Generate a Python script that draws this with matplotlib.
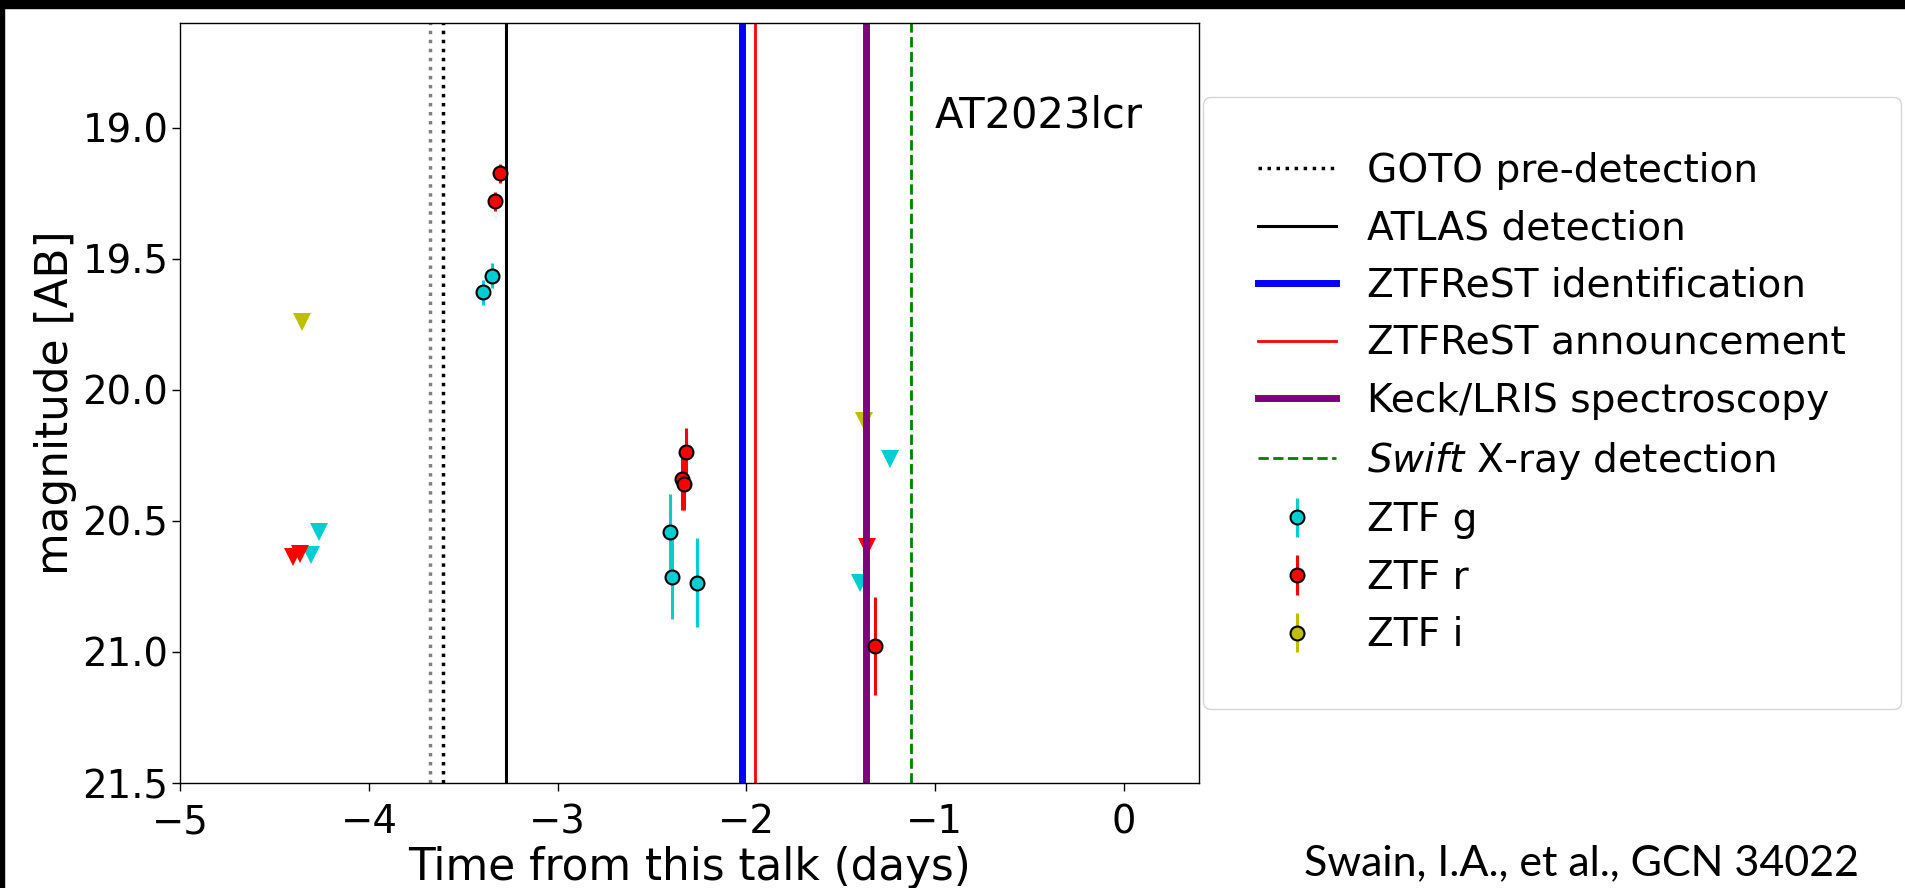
import numpy as np
import matplotlib
matplotlib.use("Agg")
import matplotlib.pyplot as plt
from matplotlib.patches import Rectangle

# ZTF detections (time from talk in days, AB mag, 1-sigma error)
g_t = [-3.394, -3.345, -2.404, -2.391, -2.262]
g_mag = [19.628, 19.564, 20.544, 20.714, 20.735]
g_err = [0.048, 0.047, 0.147, 0.160, 0.169]

r_t = [-3.332, -3.306, -2.343, -2.330, -2.317, -1.316]
r_mag = [19.280, 19.174, 20.339, 20.359, 20.237, 20.977]
r_err = [0.036, 0.035, 0.12, 0.10, 0.092, 0.187]

i_t = []
i_mag = []
i_err = []

# ZTF upper limits
g_lim_t = [-4.309, -4.266, -1.399, -1.238]
g_lim_mag = [20.629, 20.541, 20.735, 20.263]
r_lim_t = [-4.400, -4.366, -1.358]
r_lim_mag = [20.637, 20.625, 20.600]
i_lim_t = [-4.353, -1.377]
i_lim_mag = [19.740, 20.117]

# epochs of the follow-up milestones
goto_t = [-3.677, -3.608]
atlas_t = -3.272
ztfrest_id_t = -2.024
ztfrest_ann_t = -1.954
keck_t = -1.364
swift_t = -1.126

W, H = 1905, 888
fig = plt.figure(figsize=(W / 100, H / 100), dpi=100)
fig.patch.set_facecolor('white')
ax = fig.add_axes([180.25 / W, 1 - 783 / H, (1199 - 180.25) / W, (783 - 23) / H])

# black slide edges
fig.add_artist(Rectangle((0, 1 - 8 / H), 1, 8 / H, transform=fig.transFigure,
                         color='k', zorder=10))
fig.add_artist(Rectangle((0, 0), 4 / W, 1, transform=fig.transFigure,
                         color='k', zorder=10))

cg, cr, ci = 'darkturquoise', 'red', 'y'
kw = dict(fmt='o', ms=10, mec='k', mew=1.5, elinewidth=2.2, capsize=0)
hg = ax.errorbar(g_t, g_mag, yerr=g_err, color=cg, label='ZTF g', **kw)
hr = ax.errorbar(r_t, r_mag, yerr=r_err, color=cr, label='ZTF r', **kw)
hi = ax.errorbar(np.array(i_t), np.array(i_mag), yerr=np.array(i_err),
                 color=ci, label='ZTF i', **kw)

ax.plot(g_lim_t, g_lim_mag, 'v', color=cg, ms=13, mew=0)
ax.plot(r_lim_t, r_lim_mag, 'v', color=cr, ms=13, mew=0)
ax.plot(i_lim_t, i_lim_mag, 'v', color=ci, ms=13, mew=0)

dots = (0, (1, 1.6))
ax.axvline(goto_t[0], color='gray', ls=dots, lw=2.5)
l1 = ax.axvline(goto_t[1], color='k', ls=dots, lw=2.5, label='GOTO pre-detection')
l2 = ax.axvline(atlas_t, color='k', lw=2.2, label='ATLAS detection')
l3 = ax.axvline(ztfrest_id_t, color='b', lw=5, label='ZTFReST identification')
l4 = ax.axvline(ztfrest_ann_t, color='r', lw=2, label='ZTFReST announcement')
l5 = ax.axvline(keck_t, color='purple', lw=5, label='Keck/LRIS spectroscopy')
l6 = ax.axvline(swift_t, color='g', ls='--', lw=2,
                label=r'$\it{Swift}$ X-ray detection')

ax.text(-1.0, 19.0, 'AT2023lcr', fontsize=30)

ax.set_xlim(-5, 0.4)
ax.set_ylim(21.5, 18.6)
ax.set_yticks([19.0, 19.5, 20.0, 20.5, 21.0, 21.5])
ax.set_xlabel('Time from this talk (days)', fontsize=31.5, labelpad=3.5)
ax.set_ylabel('magnitude [AB]', fontsize=31.5)
ax.tick_params(labelsize=27.8, length=6, width=1)
ax.tick_params(axis='x', pad=8.6)
ax.tick_params(axis='y', pad=2.5)
for s in ax.spines.values():
    s.set_linewidth(1.0)

handles = [l1, l2, l3, l4, l5, l6, hg, hr, hi]
ax.legend(handles=handles, labels=[h.get_label() for h in handles],
          loc='center left', bbox_to_anchor=(1.0, 0.5), borderaxespad=0.1,
          fontsize=28.2, borderpad=1.4)

fig.text(1859 / W, 1 - 863 / H, 'Swain, I.A., et al., GCN 34022',
         family='Lato', fontsize=31, ha='right', va='center')

fig.savefig('out.png', dpi=100)
